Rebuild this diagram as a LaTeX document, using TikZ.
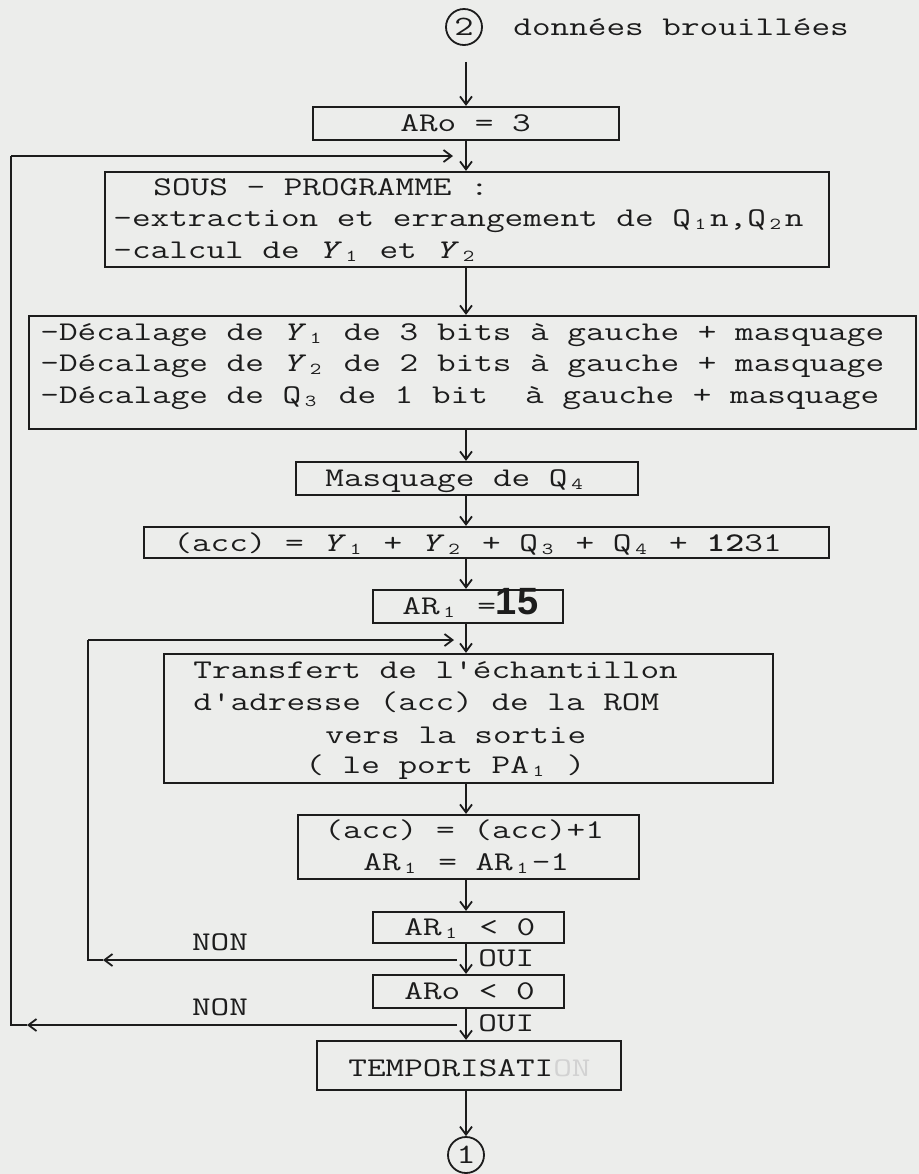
\documentclass[tikz,border=0pt]{standalone}
\usepackage{fontspec}
\usetikzlibrary{arrows.meta,calc}
\definecolor{ink}{RGB}{28,28,28}
\definecolor{paper}{RGB}{236,237,235}
\newcommand\ix[1]{\makebox[0.525em][c]{\raisebox{-0.12em}{\scalebox{0.62}{#1}}}}
\newcommand\wx[1]{\scalebox{1.34}[1]{#1}}
\newcommand\hw[1]{{\fontspec{Liberation Sans}\bfseries\fontsize{19}{19}\selectfont #1}}
\begin{document}
\begin{tikzpicture}[x=0.5pt,y=-0.5pt,
  box/.style={draw=ink,line width=1.1pt,inner sep=0pt,rectangle},
  txt/.style={font=\ttfamily\fontsize{13.5}{16}\selectfont,anchor=west,inner sep=0pt,text=ink,
    text height=0.6em,text depth=0.1em,yshift=-1.5pt},
  ln/.style={draw=ink,line width=0.9pt},
  arr/.style={ln,-{Straight Barb[length=4pt,width=6pt]}},
  conn/.style={circle,draw=ink,line width=0.9pt,minimum size=18pt,inner sep=0pt,
    font=\ttfamily\fontsize{14}{16}\selectfont,text=ink}]
\fill[paper] (0,0) rectangle (919,1174);
\useasboundingbox (0,0) rectangle (919,1174);
\coordinate (axis) at (466,0);

% connectors (circles)
\node[conn] (c2) at (464,27) {\wx{2}};
\node[txt] (tdb) at (513,27) {\wx{données brouillées}};
\node[conn] (c1) at (466,1155) {\wx{1}};

% boxes
\node[box,minimum width=153pt,minimum height=16.5pt] (b0) at (466,123.5) {};
\node[box,minimum width=362pt,minimum height=47.5pt] (b1) at (467,219.5) {};
\node[box,minimum width=443.5pt,minimum height=56.5pt] (b2) at (472.5,372.5) {};
\node[box,minimum width=171pt,minimum height=16.5pt] (b3) at (467,478.5) {};
\node[box,minimum width=342.5pt,minimum height=15.5pt] (b4) at (486.5,542.5) {};
\node[box,minimum width=95pt,minimum height=16.5pt] (b5) at (468,606.5) {};
\node[box,minimum width=304.5pt,minimum height=64.5pt] (b6) at (468.5,718.5) {};
\node[box,minimum width=170.5pt,minimum height=32pt] (b7) at (468.5,847) {};
\node[box,minimum width=95.5pt,minimum height=15.5pt] (b8) at (468.5,927.5) {};
\node[box,minimum width=95.5pt,minimum height=16.5pt] (b9) at (468.5,991.5) {};
\node[box,minimum width=152pt,minimum height=24.5pt] (b10) at (469,1065.5) {};

% texts
\node[txt] (t0) at (400,123.5) {\wx{ARo = 3}};
\node[txt] (t1a) at (153,187) {\wx{SOUS - PROGRAMME :}};
\node[txt] (t1b) at (113,218) {\wx{-extraction et errangement de Q\ix{1}n,Q\ix{2}n}};
\node[txt] (t1c) at (113,250) {\wx{-calcul de \textit{Y}\ix{1} et \textit{Y}\ix{2}}};
\node[txt] (t2a) at (40,332) {\wx{-Décalage de \textit{Y}\ix{1} de 3 bits à gauche + masquage}};
\node[txt] (t2b) at (40,363) {\wx{-Décalage de \textit{Y}\ix{2} de 2 bits à gauche + masquage}};
\node[txt] (t2c) at (40,395) {\wx{-Décalage de Q\ix{3} de 1 bit\ \ à gauche + masquage}};
\node[txt] (t3) at (325,478) {\wx{Masquage de Q\ix{4}}};
\node[txt] (t4) at (173,543) {\wx{(acc) = \textit{Y}\ix{1} + \textit{Y}\ix{2} + Q\ix{3} + Q\ix{4} + \textbf{12}31}};
\node[txt] (t5) at (402,606) {\wx{AR\ix{1} =}\hw{15}};
\node[txt] (t6a) at (193,670) {\wx{Transfert de l'échantillon}};
\node[txt] (t6b) at (193,702) {\wx{d'adresse (acc) de la ROM}};
\node[txt] (t6c) at (325,735) {\wx{vers la sortie}};
\node[txt] (t6d) at (305,765) {\wx{( le port PA\ix{1} )}};
\node[txt] (t7a) at (324,830) {\wx{(acc) = (acc)+1}};
\node[txt] (t7b) at (363,862) {\wx{AR\ix{1} = AR\ix{1}-1}};
\node[txt] (t8) at (404,927) {\wx{AR\ix{1} < 0}};
\node[txt] (t9) at (404,991) {\wx{ARo < 0}};
\node[txt] (t10) at (348,1068) {\wx{TEMPORISATI{\color{gray!35}ON}}};
\node[txt] (oui1) at (478,958) {\wx{OUI}};
\node[txt] (oui2) at (478,1023) {\wx{OUI}};
\node[txt,anchor=center] (non1) at (220,942) {\wx{NON}};
\node[txt,anchor=center] (non2) at (220,1007) {\wx{NON}};

% main flow
\draw[arr,shorten <=8pt] (c2.south -| axis) -- (b0.north -| axis);
\draw[arr] (b0.south -| axis) -- (b1.north -| axis);
\draw[arr] (b1.south -| axis) -- (b2.north -| axis);
\draw[arr] (b2.south -| axis) -- (b3.north -| axis);
\draw[arr] (b3.south -| axis) -- (b4.north -| axis);
\draw[arr] (b4.south -| axis) -- (b5.north -| axis);
\draw[arr] (b5.south -| axis) -- (b6.north -| axis);
\draw[arr] (b6.south -| axis) -- (b7.north -| axis);
\draw[arr] (b7.south -| axis) -- (b8.north -| axis);
\draw[arr] (b8.south -| axis) -- (b9.north -| axis);
\draw[arr] (b9.south -| axis) -- (b10.north -| axis);
\draw[arr] (b10.south -| axis) -- (c1.north);

% inner loop (AR1 < 0 : NON)
\coordinate (r1s) at (457,960);
\coordinate (r1a) at (103,960);
\coordinate (r1c) at (88,960);
\coordinate (r1t) at (88,640);
\coordinate (r1e) at (454,640);
\draw[arr] (r1s) -- (r1a);
\draw[ln] (r1a) -- (r1c) -- (r1t);
\draw[arr] (r1t) -- (r1e);

% outer loop (ARo < 0 : NON)
\coordinate (r2s) at (457,1025);
\coordinate (r2a) at (27,1025);
\coordinate (r2c) at (11,1025);
\coordinate (r2t) at (11,156);
\coordinate (r2e) at (453,156);
\draw[arr] (r2s) -- (r2a);
\draw[ln] (r2a) -- (r2c) -- (r2t);
\draw[arr] (r2t) -- (r2e);
\end{tikzpicture}
\end{document}
